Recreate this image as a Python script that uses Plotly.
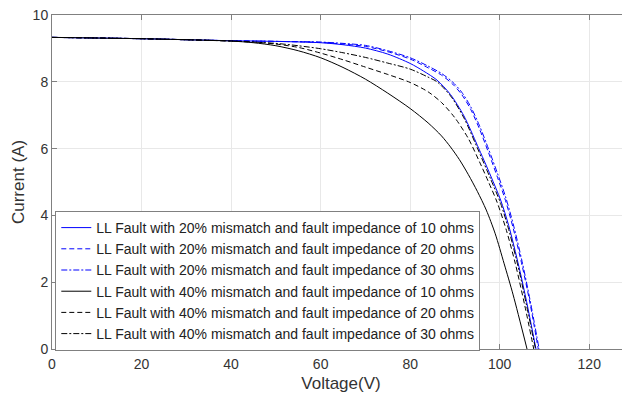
import plotly.graph_objects as go

# Voltage (V) / Current (A) samples
v_20_10 = [0, 20, 40, 50, 60, 65, 70, 75, 80, 83, 86, 89, 92, 95, 98, 100.2, 102, 104.3, 106, 108.1]
i_20_10 = [9.33, 9.29, 9.23, 9.21, 9.17, 9.11, 9.01, 8.83, 8.55, 8.32, 8.05, 7.62, 6.98, 6.10, 5.18, 4.46, 3.70, 2.46, 1.42, 0]

v_20_20 = [0, 20, 40, 50, 60, 65, 70, 75, 80, 84, 87, 89.5, 91.5, 93.5, 95.5, 97.5, 99.5, 101.3, 103, 105, 106.8, 108.6]
i_20_20 = [9.33, 9.29, 9.23, 9.21, 9.18, 9.13, 9.06, 8.90, 8.68, 8.42, 8.20, 7.93, 7.62, 7.18, 6.58, 5.88, 5.14, 4.44, 3.62, 2.50, 1.35, 0]

v_20_30 = [0, 20, 40, 50, 60, 65, 70, 75, 80, 84, 87, 89.5, 91.5, 93.5, 95.5, 97.5, 99.5, 101.3, 103, 105, 106.8, 108.8]
i_20_30 = [9.33, 9.29, 9.23, 9.21, 9.19, 9.15, 9.09, 8.93, 8.72, 8.47, 8.25, 7.99, 7.69, 7.26, 6.68, 5.99, 5.26, 4.56, 3.75, 2.62, 1.45, 0]

v_40_10 = [0, 10, 20, 30, 40, 45, 50, 55, 60, 65, 70, 75, 80, 84, 87, 89, 91, 93, 95, 97, 99, 101, 103, 106.1]
i_40_10 = [9.33, 9.31, 9.29, 9.26, 9.22, 9.17, 9.08, 8.93, 8.72, 8.43, 8.08, 7.66, 7.20, 6.77, 6.38, 6.05, 5.67, 5.22, 4.72, 4.16, 3.45, 2.55, 1.62, 0]

v_40_20 = [0, 20, 40, 45, 50, 55, 60, 65, 70, 75, 80, 84, 87, 90, 93, 95.5, 97.5, 99.4, 101.5, 103.5, 105.6, 107.6]
i_40_20 = [9.33, 9.29, 9.22, 9.19, 9.13, 9.03, 8.86, 8.66, 8.44, 8.22, 7.98, 7.70, 7.38, 6.92, 6.30, 5.60, 5.00, 4.40, 3.55, 2.55, 1.30, 0]

v_40_30 = [0, 20, 40, 50, 55, 60, 65, 70, 75, 80, 84, 86, 89, 92, 95, 98, 100.2, 102, 104.3, 106, 108.0]
i_40_30 = [9.33, 9.29, 9.22, 9.15, 9.08, 8.99, 8.87, 8.73, 8.56, 8.38, 8.14, 8.00, 7.58, 6.92, 6.02, 5.08, 4.36, 3.58, 2.36, 1.30, 0]

names = [
    "LL Fault with 20% mismatch and fault impedance of 10 ohms",
    "LL Fault with 20% mismatch and fault impedance of 20 ohms",
    "LL Fault with 20% mismatch and fault impedance of 30 ohms",
    "LL Fault with 40% mismatch and fault impedance of 10 ohms",
    "LL Fault with 40% mismatch and fault impedance of 20 ohms",
    "LL Fault with 40% mismatch and fault impedance of 30 ohms",
]

x_ticks = [0, 20, 40, 60, 80, 100, 120]
y_ticks = [0, 2, 4, 6, 8, 10]

series = [
    (v_20_10, i_20_10, "#0000ff", "solid"),
    (v_20_20, i_20_20, "#0000ff", "5px,3px"),
    (v_20_30, i_20_30, "#0000ff", "6px,2px,2px,2px"),
    (v_40_10, i_40_10, "#000000", "solid"),
    (v_40_20, i_40_20, "#000000", "5px,3px"),
    (v_40_30, i_40_30, "#000000", "6px,2px,2px,2px"),
]

fig = go.Figure()
for (vx, iy, col, dash), nm in zip(series, names):
    fig.add_trace(go.Scatter(
        x=vx, y=iy, mode="lines", name=nm,
        line=dict(color=col, width=1, dash=dash, shape="spline", smoothing=0.8),
    ))

axis_common = dict(
    showgrid=True, gridcolor="#e8e8e8", gridwidth=1,
    showline=True, linecolor="#808080", linewidth=1, mirror="ticks",
    ticks="inside", ticklen=5, tickcolor="#808080",
    tickfont=dict(family="Liberation Sans, Arial, sans-serif", size=14, color="#333333"),
    zeroline=False, automargin=False, ticklabeloverflow="allow",
)

# the page body adds an 8px offset, margins compensate for it
fig.update_layout(
    width=630, height=395,
    margin=dict(l=44, r=8, t=7, b=54),
    paper_bgcolor="white", plot_bgcolor="white",
    font=dict(family="Liberation Sans, Arial, sans-serif", color="#333333"),
    xaxis=dict(range=[0, 129.1], tickvals=x_ticks, ticklabelstandoff=2,
               title=dict(text="Voltage(V)", font=dict(size=17), standoff=6),
               **axis_common),
    yaxis=dict(range=[0, 10], tickvals=y_ticks,
               title=dict(text="Current (A)", font=dict(size=17), standoff=3),
               **axis_common),
    legend=dict(
        x=0.0057, y=-0.006, xanchor="left", yanchor="bottom",
        bgcolor="white", bordercolor="#808080", borderwidth=1,
        font=dict(family="Liberation Sans, Arial, sans-serif", size=14, color="#222222"),
        tracegroupgap=0, itemwidth=30,
    ),
    showlegend=True,
)

fig.write_html("out.html")
